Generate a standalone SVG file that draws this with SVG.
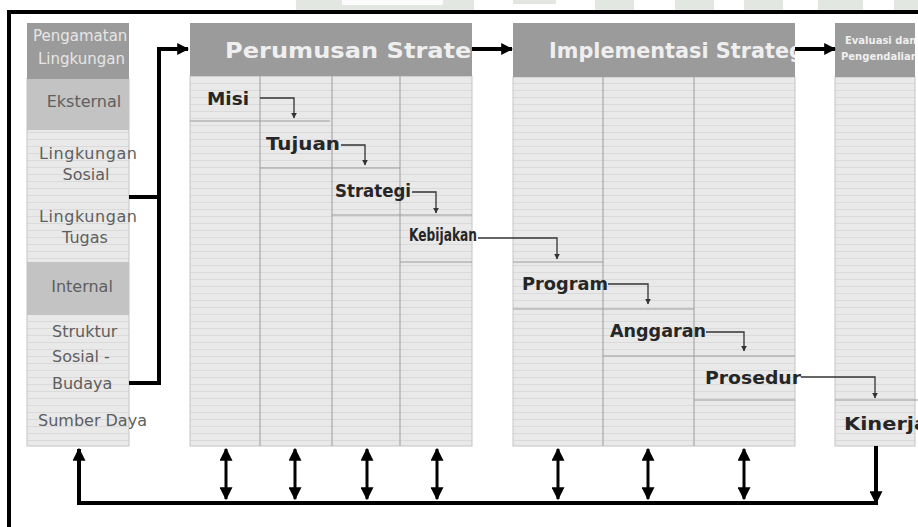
<svg xmlns="http://www.w3.org/2000/svg" width="918" height="527" viewBox="0 0 918 527">
<style>
.body{fill:url(#stripes);stroke:#c4c4c4;stroke-width:1}
.hdr{fill:#9b9b9b}
.band{fill:#c3c3c3}
.div{stroke:#a9a9a9;stroke-width:1.2;fill:none}
.row{stroke:#9c9c9c;stroke-width:1.2;fill:none}
.htxt{font-family:"DejaVu Sans",Verdana,sans-serif;font-weight:bold;fill:#efefef}
.ltxt{font-family:"DejaVu Sans",Verdana,sans-serif;font-size:16px;fill:#5e5e5e}
.btxt{font-family:"DejaVu Sans",Verdana,sans-serif;font-weight:bold;font-size:17px;fill:#262626}
.thin{stroke:#333;stroke-width:1.3;fill:none;marker-end:url(#sm)}
.thick{stroke:#000;stroke-width:4;fill:none}
.dbl{stroke:#000;stroke-width:3;fill:none;marker-start:url(#ah2);marker-end:url(#ah2)}
.wm{fill:#e3e7e1}
</style>
<defs>
<pattern id="stripes" patternUnits="userSpaceOnUse" width="8" height="7">
<rect width="8" height="7" fill="#e9e9e9"/>
<line x1="0" y1="6.5" x2="8" y2="6.5" stroke="#dadada" stroke-width="1"/>
</pattern>
<marker id="ah" viewBox="0 0 10 10" refX="9" refY="5" markerUnits="userSpaceOnUse" markerWidth="12" markerHeight="13" orient="auto-start-reverse">
<path d="M0,0 L10,5 L0,10 z" fill="#000"/>
</marker>
<marker id="ah2" viewBox="0 0 10 10" refX="9" refY="5" markerUnits="userSpaceOnUse" markerWidth="13" markerHeight="13" orient="auto-start-reverse">
<path d="M0,0 L10,5 L0,10 z" fill="#000"/>
</marker>
<marker id="sm" viewBox="0 0 10 10" refX="9" refY="5" markerUnits="userSpaceOnUse" markerWidth="6" markerHeight="6" orient="auto">
<path d="M0,0 L10,5 L0,10 z" fill="#333"/>
</marker>
<clipPath id="c0"><rect x="27" y="23" width="102" height="56"/></clipPath>
<clipPath id="c1"><rect x="190" y="23" width="282" height="53"/></clipPath>
<clipPath id="c2"><rect x="513" y="23" width="282" height="54"/></clipPath>
<clipPath id="c3"><rect x="835" y="23" width="80" height="54"/></clipPath>
</defs>
<rect width="918" height="527" fill="#fff"/>

<g id="watermark">
<rect class="wm" x="296" y="0" width="178" height="10"/>
<rect x="342" y="0" width="101" height="5" fill="#fbfbfb"/>
<rect class="wm" x="513" y="0" width="43" height="4"/>
<rect class="wm" x="595" y="0" width="39" height="10"/>
<rect class="wm" x="675" y="0" width="39" height="10"/>
<rect class="wm" x="744" y="0" width="39" height="10"/>
<rect class="wm" x="818" y="0" width="45" height="10"/>
<rect class="wm" x="894" y="0" width="24" height="10"/>
</g>

<rect id="frame" x="9" y="12" width="940" height="540" fill="none" stroke="#000" stroke-width="4"/>

<g id="pengamatan-lingkungan">
<rect class="body" x="27" y="79" width="102" height="367"/>
<rect class="hdr" x="27" y="23" width="102" height="56"/>
<g clip-path="url(#c0)">
<text x="33" y="41" font-family="DejaVu Sans,Verdana,sans-serif" font-size="15" fill="#e6e6e6">Pengamatan</text>
<text x="38" y="64" font-family="DejaVu Sans,Verdana,sans-serif" font-size="15" fill="#e6e6e6">Lingkungan</text>
</g>
<rect class="band" x="27" y="79" width="102" height="51"/>
<text class="ltxt" x="84" y="107" text-anchor="middle">Eksternal</text>
<text class="ltxt" x="88" y="159" text-anchor="middle" textLength="98">Lingkungan</text>
<text class="ltxt" x="86" y="180" text-anchor="middle">Sosial</text>
<text class="ltxt" x="88" y="222" text-anchor="middle" textLength="98">Lingkungan</text>
<text class="ltxt" x="85" y="243" text-anchor="middle">Tugas</text>
<rect class="band" x="27" y="262" width="102" height="53"/>
<text class="ltxt" x="82" y="292" text-anchor="middle">Internal</text>
<text class="ltxt" x="52" y="337">Struktur</text>
<text class="ltxt" x="52" y="362">Sosial -</text>
<text class="ltxt" x="52" y="389">Budaya</text>
<text class="ltxt" x="38" y="426" font-size="15">Sumber Daya</text>
</g>

<g id="perumusan-strategi">
<rect class="body" x="190" y="76" width="282" height="370"/>
<rect class="hdr" x="190" y="23" width="282" height="53"/>
<text class="htxt" x="225" y="58" font-size="22" textLength="272" lengthAdjust="spacingAndGlyphs" clip-path="url(#c1)">Perumusan Strategi</text>
<path class="div" d="M260,76V446M332,76V446M400,76V446"/>
</g>

<g id="misi">
<path class="row" d="M190,121H330"/>
<text class="btxt" x="207" y="105" textLength="42" lengthAdjust="spacingAndGlyphs">Misi</text>
</g>
<g id="tujuan">
<path class="row" d="M260,168H400"/>
<text class="btxt" x="266" y="150" textLength="74" lengthAdjust="spacingAndGlyphs">Tujuan</text>
</g>
<g id="strategi">
<path class="row" d="M332,215H472"/>
<text class="btxt" x="335" y="197" font-size="16" textLength="76" lengthAdjust="spacingAndGlyphs">Strategi</text>
</g>
<g id="kebijakan">
<path class="row" d="M400,262H472"/>
<text class="btxt" x="409" y="241" font-size="9.5" textLength="68" lengthAdjust="spacingAndGlyphs">Kebijakan</text>
</g>

<g id="implementasi-strategi">
<rect class="body" x="513" y="77" width="282" height="369"/>
<rect class="hdr" x="513" y="23" width="282" height="54"/>
<text class="htxt" x="549" y="58" font-size="20.5" textLength="262" lengthAdjust="spacingAndGlyphs" clip-path="url(#c2)">Implementasi Strategi</text>
<path class="div" d="M603,77V446M694,77V446"/>
<path class="row" d="M513,262H603"/>
</g>
<g id="program">
<path class="row" d="M513,309H694"/>
<text class="btxt" x="522" y="290" textLength="86" lengthAdjust="spacingAndGlyphs">Program</text>
</g>
<g id="anggaran">
<path class="row" d="M603,356H795"/>
<text class="btxt" x="610" y="337" textLength="96" lengthAdjust="spacingAndGlyphs">Anggaran</text>
</g>
<g id="prosedur">
<path class="row" d="M694,400H795"/>
<text class="btxt" x="705" y="384" textLength="96" lengthAdjust="spacingAndGlyphs">Prosedur</text>
</g>

<g id="evaluasi-pengendalian">
<rect class="body" x="835" y="77" width="80" height="369"/>
<rect class="hdr" x="835" y="23" width="80" height="54"/>
<g clip-path="url(#c3)">
<text class="htxt" x="845" y="44" font-size="10">Evaluasi dan</text>
<text class="htxt" x="841" y="60" font-size="10">Pengendalian</text>
</g>
<path class="row" d="M835,400H918"/>
</g>
<g id="kinerja">
<text class="btxt" x="844" y="430" font-size="18" textLength="84" lengthAdjust="spacingAndGlyphs">Kinerja</text>
</g>

<g id="connectors">
<path class="thin" d="M260,98H294V118"/>
<path class="thin" d="M341,145H365V165"/>
<path class="thin" d="M412,192H436V213"/>
<path class="thin" d="M478,238H557V259"/>
<path class="thin" d="M608,284H648V304"/>
<path class="thin" d="M706,332H744V351"/>
<path class="thin" d="M801,377H875V398"/>
<path class="thick" d="M129,383H159V49H188" marker-end="url(#ah)"/>
<path class="thick" d="M129,197H159"/>
<path class="thick" d="M472,49H512" marker-end="url(#ah)"/>
<path class="thick" d="M795,49H835" marker-end="url(#ah)"/>
<path class="thick" d="M876,446V503H79V449" marker-end="url(#ah2)"/>
<path class="thick" d="M876,446V503" marker-end="url(#ah2)"/>
<path class="dbl" d="M226,449V499"/>
<path class="dbl" d="M295,449V499"/>
<path class="dbl" d="M367,449V499"/>
<path class="dbl" d="M437,449V499"/>
<path class="dbl" d="M558,449V499"/>
<path class="dbl" d="M648,449V499"/>
<path class="dbl" d="M744,449V499"/>
</g>
</svg>
